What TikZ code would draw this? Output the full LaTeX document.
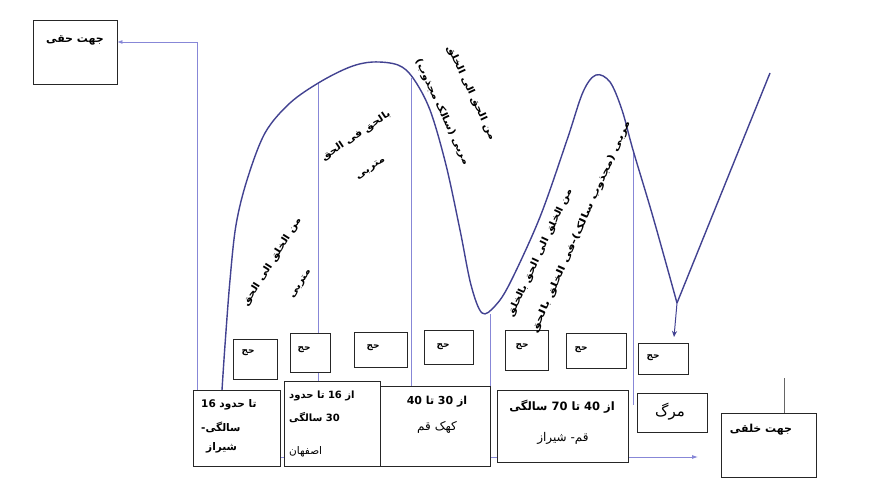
\documentclass[tikz,border=0pt]{standalone}
\usepackage{fontspec}
\setmainfont{DejaVu Sans}
\newfontfamily\ar[Script=Arabic]{DejaVu Sans}
\newfontfamily\arw[Script=Arabic,FakeStretch=1.15]{DejaVu Sans}
\TeXXeTstate=1
\usetikzlibrary{arrows.meta,calc}
\definecolor{curvec}{RGB}{66,66,145}
\definecolor{linec}{RGB}{135,135,215}
\tikzset{
  box/.style={draw=black!85, line width=0.8pt, fill=white, inner sep=0pt},
  vline/.style={draw=linec, line width=0.8pt},
  curveline/.style={draw=curvec, line width=1.4pt},
  btxt/.style={inner sep=0pt, font=\ar\bfseries\fontsize{10.5}{12}\selectfont},
  rtxt/.style={inner sep=0pt, font=\ar\fontsize{12}{14}\selectfont},
  hajj/.style={inner sep=0pt, font=\ar\bfseries\fontsize{9}{10}\selectfont},
  rot/.style={inner sep=0pt, font=\arw\bfseries\fontsize{9.5}{11}\selectfont},
}
\begin{document}
\begin{tikzpicture}[x=1pt,y=-1pt]
\useasboundingbox (0,0) rectangle (877,481);
\fill[white] (0,0) rectangle (877,481);

% side boxes
\path
 node[box, minimum width=84pt, minimum height=64pt] (haqq) at (75,52) {}
 node[box, minimum width=95pt, minimum height=64pt] (khalq) at (768.5,445) {};

% coordinates on the curve and free ends
\coordinate (c1) at (318,83);
\coordinate (c2) at (411,78);
\coordinate (c3) at (490,314);
\coordinate (c4) at (633,152);
\coordinate (a1) at (197,390);
\coordinate (astart) at (270,457);
\coordinate (aend) at (698,457);
\coordinate (ktop) at (784,378);

% vertical lines
\draw[vline] (c1) -- (318,381);
\draw[vline] (c2) -- (411,386);
\draw[vline] (c3) -- (490,386);
\draw[vline] (c4) -- (633,405);
\draw[vline,-{Latex[length=5pt,width=4pt]}] (a1) |- ([yshift=10pt]haqq.east);
\draw[vline,-{Latex[length=6pt,width=4pt]}] (astart) -- (aend);
\draw[draw=black!60, line width=0.6pt] (ktop) -- (khalq.north -| ktop);

% curve
\draw[curveline] plot[smooth, tension=0.55] coordinates {
 (222,390) (225,345) (230,280) (236,225) (247,180) (265,133) (290,103)
 (320,82) (350,67) (373,62) (398,65) (413,78) (430,110) (446,165)
 (460,230) (471,285) (482,313) (495,306) (510,283) (540,217) (567,140)
 (583,92) (596,75) (610,82) (622,110) (633,150) (653,217) (677,303)};
\coordinate (vx) at (677,303);
\coordinate (vtop) at (770,73);
\coordinate (vdown) at (674,337);
\draw[curveline] (vx) -- (vtop);
\draw[draw=curvec, line width=1pt, -{Stealth[length=6pt,width=5pt]}] (vx) -- (vdown);

% boxes on top
\path
 node[box, minimum width=87pt, minimum height=76pt] (b1) at (236.5,428) {}
 node[box, minimum width=96pt, minimum height=85pt] (b2) at (332,423.5) {}
 node[box, minimum width=110pt, minimum height=80pt] (b3) at (435,426) {}
 node[box, minimum width=131pt, minimum height=72pt] (b4) at (562.5,426) {}
 node[box, minimum width=70pt, minimum height=39pt] (marg) at (672,412.5) {}
 node[box, minimum width=44pt, minimum height=40pt] (h1) at (255,359) {}
 node[box, minimum width=40pt, minimum height=39pt] (h2) at (310,352.5) {}
 node[box, minimum width=53pt, minimum height=35pt] (h3) at (380.5,349.5) {}
 node[box, minimum width=49pt, minimum height=34pt] (h4) at (448.5,347) {}
 node[box, minimum width=43pt, minimum height=40pt] (h5) at (526.5,350) {}
 node[box, minimum width=60pt, minimum height=35pt] (h6) at (596,350.5) {}
 node[box, minimum width=50pt, minimum height=31pt] (h7) at (663,358.5) {};

% texts in boxes
\node[btxt, font=\ar\bfseries\fontsize{11}{13}\selectfont] (thaqq) at (75,40) {\beginR جهت حقی\endR};
\node[btxt, font=\ar\bfseries\fontsize{11}{13}\selectfont] (tkhalq) at (761,430) {\beginR جهت خلقی\endR};

\node[btxt, anchor=west] (t1a) at (201,405) {\beginR تا حدود \beginL16\endL\endR};
\node[btxt, anchor=west] (t1b) at (201,427) {\beginR سالگی-\endR};
\node[btxt, anchor=west] (t1c) at (206,448) {\beginR شیراز\endR};

\node[btxt, font=\ar\bfseries\fontsize{10}{12}\selectfont, anchor=west] (t2a) at (289,396) {\beginR از \beginL16\endL{} تا حدود\endR};
\node[btxt, font=\ar\bfseries\fontsize{10}{12}\selectfont, anchor=west] (t2b) at (289,418) {\beginR \beginL30\endL{} سالگی\endR};
\node[rtxt, font=\ar\fontsize{10.5}{12}\selectfont, anchor=west] (t2c) at (289,452) {\beginR اصفهان\endR};

\node[btxt, font=\ar\bfseries\fontsize{11}{13}\selectfont] (t3a) at (437,402) {\beginR از \beginL30\endL{} تا \beginL40\endL\endR};
\node[rtxt] (t3b) at (437,427) {\beginR کهک قم\endR};

\node[btxt, font=\ar\bfseries\fontsize{11.5}{13}\selectfont] (t4a) at (562,407) {\beginR از \beginL40\endL{} تا \beginL70\endL{} سالگی\endR};
\node[rtxt] (t4b) at (563,438) {\beginR قم- شیراز\endR};

\node[rtxt, font=\ar\fontsize{15}{17}\selectfont] (tmarg) at (670,412) {\beginR مرگ\endR};

\node[hajj] (j1) at (248,353) {\beginR حج\endR};
\node[hajj] (j2) at (304,350) {\beginR حج\endR};
\node[hajj] (j3) at (373,348) {\beginR حج\endR};
\node[hajj] (j4) at (443,347) {\beginR حج\endR};
\node[hajj] (j5) at (522,347) {\beginR حج\endR};
\node[hajj] (j6) at (581,350) {\beginR حج\endR};
\node[hajj] (j7) at (653,358) {\beginR حج\endR};

% rotated labels
\node[rot, rotate=58] (r1a) at (272,262) {\beginR من الخلق الی الحق\endR};
\node[rot, rotate=58] (r1b) at (301,284) {\beginR متربی\endR};
\node[rot, rotate=34] (r2a) at (356,136) {\beginR بالحق فی الحق\endR};
\node[rot, rotate=34] (r2b) at (371,169) {\beginR متربی\endR};
\node[rot, rotate=-65] (r3a) at (471,93) {\beginR من الحق الی الخلق\endR};
\node[rot, rotate=-65] (r3b) at (442,112) {\beginR مربی (سالک مجذوب)\endR};
\node[rot, rotate=65] (r4a) at (540,253) {\beginR من الخلق الی الحق بالخلق\endR};
\node[rot, rotate=66, xscale=1.12] (r4b) at (581,227) {\beginR مربی (مجذوب سالک)-فی الخلق بالحق\endR};
\end{tikzpicture}
\end{document}
